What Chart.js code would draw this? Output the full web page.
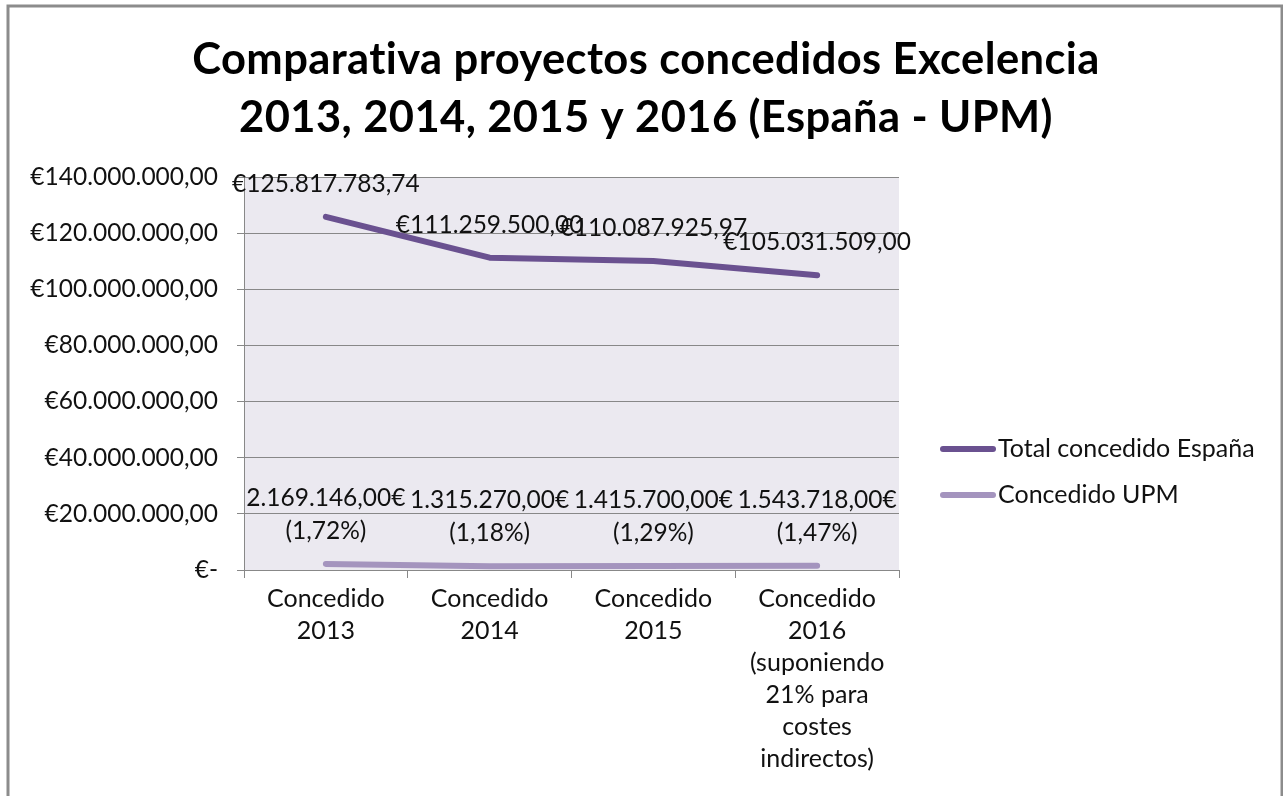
<!DOCTYPE html>
<html>
<head>
<meta charset="utf-8">
<script src="https://cdn.jsdelivr.net/npm/chart.js@4"></script>
<style>
    body { margin: 0; background: #fff; }
    #wrap { width: 1283px; height: 796px; }
</style>
</head>
<body>
<div id="wrap"><canvas id="myChart" width="1283" height="796"></canvas></div>
<script>
// datos del gráfico
const categories = [
    ['Concedido', '2013'],
    ['Concedido', '2014'],
    ['Concedido', '2015'],
    ['Concedido', '2016', '(suponiendo', '21% para', 'costes', 'indirectos)'],
];
const totalEspana = [125817783.74, 111259500.00, 110087925.97, 105031509.00];
const concedidoUPM = [2169146.00, 1315270.00, 1415700.00, 1543718.00];
const seriesNames = ['Total concedido España', 'Concedido UPM'];
const titleLines = ['Comparativa proyectos concedidos Excelencia', '2013, 2014, 2015 y 2016 (España - UPM)'];
const yMin = 0;
const yMax = 140000000;
const yStep = 20000000;

const FONT = 'Lato';
const TEXT = '#111';
const GRID = '#888888';

// formato español: 125.817.783,74
const fmtEs = (v) => {
    const [int, dec] = v.toFixed(2).split('.');
    return int.replace(/\B(?=(\d{3})+(?!\d))/g, '.') + ',' + dec;
};

//
const frameAndTitle = {
    id: 'frameAndTitle',
    beforeDraw(chart) {
        const { ctx, chartArea: { left, top, right, bottom } } = chart;
        ctx.save();
        // fondo del área de trazado
        ctx.fillStyle = '#ebe9f0';
        ctx.fillRect(left, top, right - left, bottom - top);
        // marco exterior
        ctx.strokeStyle = '#8c8c8c';
        ctx.lineWidth = 3;
        ctx.strokeRect(8, 6, 1274, 900);
        // título (letterSpacing evita la ligadura "ti")
        ctx.fillStyle = '#000';
        ctx.font = `bold 43.5px ${FONT}`;
        ctx.letterSpacing = '0.4px';
        ctx.textAlign = 'center';
        ctx.textBaseline = 'middle';
        ctx.fillText(titleLines[0], 646, 60);
        ctx.fillText(titleLines[1], 646, 118);
        ctx.restore();
    }
};
//
const valueLabels = {
    id: 'valueLabels',
    afterDatasetsDraw(chart) {
        const { ctx } = chart;
        ctx.save();
        ctx.font = `24.5px ${FONT}`;
        ctx.fillStyle = TEXT;
        ctx.textAlign = 'center';
        ctx.textBaseline = 'middle';
        chart.data.datasets.forEach((dataset, i) => {
            const meta = chart.getDatasetMeta(i);
            meta.data.forEach((pt, index) => {
                const v = dataset.data[index];
                let lines;
                if (i === 0) {
                    lines = ['€' + fmtEs(v)];
                } else {
                    const pct = (v / totalEspana[index] * 100).toFixed(2).replace('.', ',');
                    lines = [fmtEs(v) + '€', `(${pct}%)`];
                }
                lines.forEach((txt, k) => {
                    const y = pt.y - 33 - (lines.length - 1 - k) * 33;
                    ctx.fillText(txt, pt.x, y);
                });
            });
        });
        ctx.restore();
    }
};
//
const sideLegend = {
    id: 'sideLegend',
    afterDraw(chart) {
        const { ctx } = chart;
        ctx.save();
        ctx.font = `25px ${FONT}`;
        ctx.textBaseline = 'middle';
        ctx.textAlign = 'left';
        chart.data.datasets.forEach((dataset, i) => {
            const y = 449 + i * 46;
            ctx.beginPath();
            ctx.lineWidth = 6;
            ctx.lineCap = 'round';
            ctx.strokeStyle = dataset.borderColor;
            ctx.moveTo(943, y);
            ctx.lineTo(993, y);
            ctx.stroke();
            ctx.fillStyle = TEXT;
            ctx.fillText(dataset.label, 998, y);
        });
        ctx.restore();
    }
};

const lineStyle = {
    borderWidth: 6,
    borderCapStyle: 'round',
    borderJoinStyle: 'round',
    pointRadius: 0,
    pointHoverRadius: 0,
    tension: 0,
    clip: false,
};

new Chart(document.getElementById('myChart'), {
    type: 'line',
    data: {
        labels: categories,
        datasets: [
            { label: seriesNames[0], data: totalEspana, borderColor: '#6a5190', ...lineStyle },
            { label: seriesNames[1], data: concedidoUPM, borderColor: '#a494be', ...lineStyle },
        ]
    },
    options: {
        responsive: false,
        animation: false,
        devicePixelRatio: 1,
        layout: { padding: { top: 177, right: 384, left: 0, bottom: 0 } },
        scales: {
            x: {
                type: 'category',
                offset: true,
                grid: { offset: true, drawOnChartArea: false, drawTicks: true, tickLength: 8, color: GRID },
                border: { color: GRID },
                ticks: {
                    color: TEXT,
                    font: { family: FONT, size: 25, lineHeight: 1.28 },
                    padding: 5,
                    maxRotation: 0,
                    autoSkip: false,
                },
                afterFit: (scale) => { scale.height = 226; },
            },
            y: {
                min: yMin,
                max: yMax,
                grid: { color: GRID, tickLength: 7 },
                border: { color: GRID },
                ticks: {
                    stepSize: yStep,
                    color: TEXT,
                    font: { family: FONT, size: 24.5 },
                    padding: 19,
                    callback: (v) => v === 0 ? '€-' : '€' + fmtEs(v),
                },
                afterFit: (scale) => { scale.width = 244; },
            }
        },
        plugins: {
            legend: { display: false },
            title: { display: false },
            tooltip: { enabled: false },
        }
    },
    plugins: [frameAndTitle, valueLabels, sideLegend]
});
</script>
</body>
</html>
